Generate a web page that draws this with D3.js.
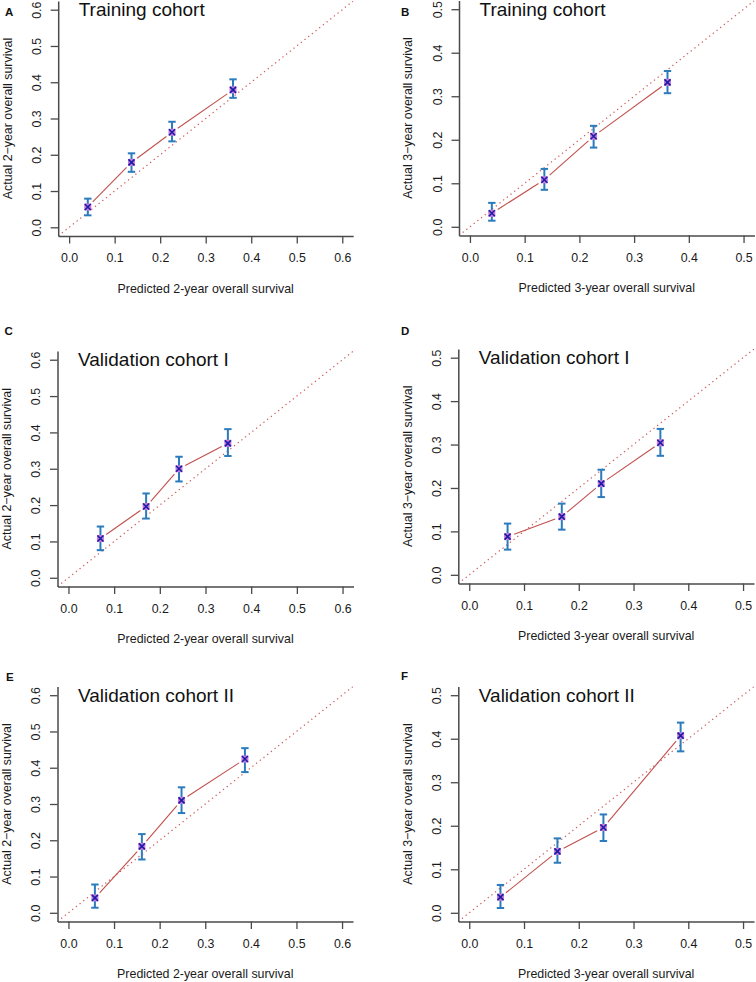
<!DOCTYPE html>
<html>
<head>
<meta charset="utf-8">
<script src="https://cdn.jsdelivr.net/npm/d3@7"></script>
<style>
  html, body { margin: 0; padding: 0; background: #fff; }
  svg { display: block; }
  text { font-family: "Liberation Sans", Arial, Helvetica, sans-serif; }
</style>
</head>
<body>
<svg id="chart" width="756" height="982"></svg>
<script>
// ---------------- data ----------------
const panelLetters = ["A", "B", "C", "D", "E", "F"];
const panelTitles = ["Training cohort", "Training cohort", "Validation cohort I", "Validation cohort I", "Validation cohort II", "Validation cohort II"];
const xTitles = ["Predicted 2-year overall survival", "Predicted 3-year overall survival",
                 "Predicted 2-year overall survival", "Predicted 3-year overall survival",
                 "Predicted 2-year overall survival", "Predicted 3-year overall survival"];
const yTitles = ["Actual 2\u2212year overall survival", "Actual 3\u2212year overall survival",
                 "Actual 2\u2212year overall survival", "Actual 3\u2212year overall survival",
                 "Actual 2\u2212year overall survival", "Actual 3\u2212year overall survival"];

const ticks2yr = [0.0, 0.1, 0.2, 0.3, 0.4, 0.5, 0.6];
const ticks3yr = [0.0, 0.1, 0.2, 0.3, 0.4, 0.5];

// predicted (x), observed (y), lower / upper CI
const predA = [0.041, 0.137, 0.226, 0.360];
const obsA  = [0.056, 0.179, 0.262, 0.379];
const loA   = [0.033, 0.153, 0.237, 0.357];
const hiA   = [0.079, 0.204, 0.291, 0.408];

const predB = [0.040, 0.136, 0.226, 0.361];
const obsB  = [0.031, 0.108, 0.208, 0.332];
const loB   = [0.014, 0.085, 0.182, 0.307];
const hiB   = [0.055, 0.133, 0.232, 0.358];

const predC = [0.070, 0.170, 0.242, 0.349];
const obsC  = [0.108, 0.196, 0.300, 0.370];
const loC   = [0.076, 0.163, 0.265, 0.335];
const hiC   = [0.141, 0.232, 0.333, 0.409];

const predD = [0.070, 0.169, 0.241, 0.349];
const obsD  = [0.088, 0.134, 0.210, 0.304];
const loD   = [0.058, 0.104, 0.179, 0.274];
const hiD   = [0.118, 0.164, 0.242, 0.336];

const predE = [0.058, 0.161, 0.248, 0.387];
const obsE  = [0.041, 0.183, 0.310, 0.424];
const loE   = [0.014, 0.147, 0.275, 0.388];
const hiE   = [0.078, 0.217, 0.346, 0.454];

const predF = [0.057, 0.161, 0.245, 0.386];
const obsF  = [0.036, 0.141, 0.196, 0.407];
const loF   = [0.011, 0.115, 0.165, 0.371];
const hiF   = [0.064, 0.171, 0.226, 0.437];

const preds = [predA, predB, predC, predD, predE, predF];
const obss  = [obsA, obsB, obsC, obsD, obsE, obsF];
const los   = [loA, loB, loC, loD, loE, loF];
const his   = [hiA, hiB, hiC, hiD, hiE, hiF];
const tickSets = [ticks2yr, ticks3yr, ticks2yr, ticks3yr, ticks2yr, ticks3yr];

// ---------------- layout ----------------
const boxes = [
  {left: 58.2, top: 1.0, w: 295, h: 235},
  {left: 459.0, top: 0.5, w: 295.5, h: 235},
  {left: 57.5, top: 351.0, w: 296, h: 235.5},
  {left: 458.3, top: 349.0, w: 295.7, h: 234.5},
  {left: 57.5, top: 686.5, w: 295.5, h: 235},
  {left: 458.3, top: 686.5, w: 295.7, h: 235}
];
const labelPos = [
  {x: 5, y: 16}, {x: 401, y: 15.5},
  {x: 4.5, y: 335}, {x: 401, y: 335},
  {x: 6, y: 680.7}, {x: 401, y: 680}
];

const axisColor = "#4a4a4a";
const textColor = "#1a1a1a";
const lineColor = "#c0504d";
const diagColor = "#cd5a58";
const barColor = "#2b7bbd";
const axisFont = 12.4;

const svg = d3.select("#chart");

panelLetters.forEach((letter, i) => {
  const b = boxes[i];
  const ticks = tickSets[i];
  const maxV = ticks[ticks.length - 1];
  const pad = 0.04 * maxV;
  const dom = [-pad, maxV + pad];
  const x = d3.scaleLinear().domain(dom).range([b.left, b.left + b.w]);
  const y = d3.scaleLinear().domain(dom).range([b.top + b.h, b.top]);
  const g = svg.append("g");

  // clip for the reference diagonal
  const clipId = "clip" + i;
  svg.append("clipPath").attr("id", clipId)
    .append("rect").attr("x", b.left).attr("y", b.top).attr("width", b.w).attr("height", b.h);

  // reference diagonal (dotted)
  g.append("line")
    .attr("clip-path", `url(#${clipId})`)
    .attr("x1", x(dom[0])).attr("y1", y(dom[0]))
    .attr("x2", x(dom[1])).attr("y2", y(dom[1]))
    .attr("stroke", diagColor).attr("stroke-width", 1.2)
    .attr("stroke-dasharray", "1.3 3.4");

  // axes
  const xAxis = d3.axisBottom(x).tickValues(ticks).tickSizeInner(7.5).tickSizeOuter(0)
    .tickPadding(10).tickFormat(d3.format(".1f"));
  const yAxis = d3.axisLeft(y).tickValues(ticks).tickSizeInner(7.5).tickSizeOuter(0)
    .tickFormat(d3.format(".1f"));

  const gx = g.append("g").attr("transform", `translate(0,${b.top + b.h})`).call(xAxis);
  const gy = g.append("g").attr("transform", `translate(${b.left},0)`).call(yAxis);
  [gx, gy].forEach(ax => {
    ax.select(".domain").attr("stroke", axisColor).attr("stroke-width", 1.5);
    ax.selectAll(".tick line").attr("stroke", axisColor).attr("stroke-width", 1.3);
    ax.selectAll(".tick text").attr("fill", textColor)
      .style("font-size", axisFont + "px")
      .style("font-family", '"Liberation Sans", Arial, sans-serif');
  });
  gy.selectAll(".tick text")
    .attr("x", null).attr("dy", "0.36em")
    .attr("text-anchor", "middle")
    .attr("transform", "translate(-21.5,0) rotate(-90)");

  // axis titles
  g.append("text")
    .attr("x", b.left + b.w / 2).attr("y", b.top + b.h + 52.5)
    .attr("dy", "0.35em").attr("text-anchor", "middle")
    .attr("fill", textColor).style("font-size", axisFont + "px")
    .text(xTitles[i]);
  g.append("text")
    .attr("transform", `translate(${b.left - 51},${b.top + b.h / 2}) rotate(-90)`)
    .attr("dy", "0.35em").attr("text-anchor", "middle")
    .attr("fill", textColor).style("font-size", axisFont + "px")
    .text(yTitles[i]);

  // panel title
  g.append("text")
    .attr("x", b.left + 20.5).attr("y", b.top + 15)
    .attr("fill", "#111").style("font-size", "19px")
    .text(panelTitles[i]);

  // panel letter
  svg.append("text")
    .attr("x", labelPos[i].x).attr("y", labelPos[i].y)
    .attr("fill", "#111").style("font-size", "11.5px").style("font-weight", "bold")
    .text(letter);

  // connecting line segments with gaps around points (R type = "b")
  const px = preds[i], py = obss[i];
  const gap = 7;
  for (let k = 0; k < px.length - 1; k++) {
    const x1 = x(px[k]), y1 = y(py[k]), x2 = x(px[k + 1]), y2 = y(py[k + 1]);
    const len = Math.hypot(x2 - x1, y2 - y1);
    if (len <= 2 * gap) continue;
    const ux = (x2 - x1) / len, uy = (y2 - y1) / len;
    g.append("line")
      .attr("x1", x1 + ux * gap).attr("y1", y1 + uy * gap)
      .attr("x2", x2 - ux * gap).attr("y2", y2 - uy * gap)
      .attr("stroke", lineColor).attr("stroke-width", 1.1);
  }

  // error bars
  const eb = g.append("g");
  px.forEach((p, k) => {
    const cx = x(p);
    eb.append("line").attr("x1", cx).attr("x2", cx)
      .attr("y1", y(los[i][k])).attr("y2", y(his[i][k]))
      .attr("stroke", barColor).attr("stroke-width", 2);
    [los[i][k], his[i][k]].forEach(v => {
      eb.append("line").attr("x1", cx - 3.7).attr("x2", cx + 3.7)
        .attr("y1", y(v)).attr("y2", y(v))
        .attr("stroke", barColor).attr("stroke-width", 2);
    });
  });

  // markers: pinkish square with blue x
  px.forEach((p, k) => {
    const cx = x(p), cy = y(py[k]);
    g.append("rect").attr("x", cx - 3.5).attr("y", cy - 3.5)
      .attr("width", 7).attr("height", 7)
      .attr("fill", "#c77ad6");
    g.append("path")
      .attr("d", `M${cx - 3},${cy - 3}L${cx + 3},${cy + 3}M${cx - 3},${cy + 3}L${cx + 3},${cy - 3}`)
      .attr("stroke", "#1c1ca8").attr("stroke-width", 1.6);
  });
});
</script>
</body>
</html>
